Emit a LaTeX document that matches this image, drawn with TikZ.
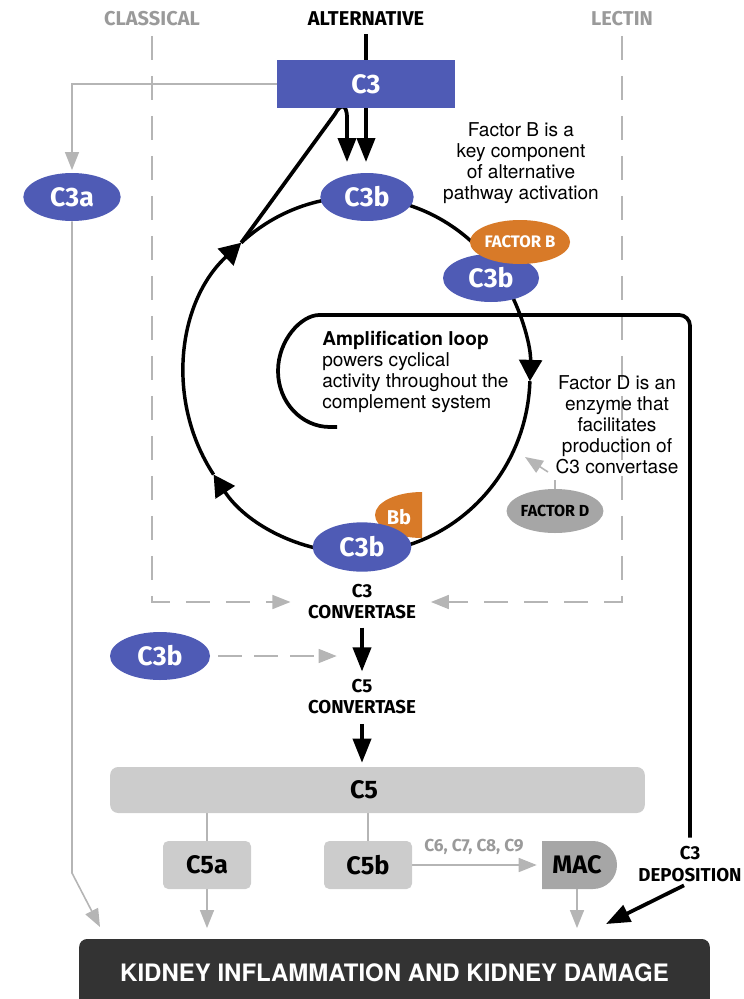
\documentclass[tikz,border=0pt]{standalone}
\usepackage{fontspec}
\setmainfont{TeX Gyre Heros}
\newfontfamily\tagfont{Fira Sans}
\usetikzlibrary{arrows.meta,shapes.geometric}
\definecolor{c3blue}{HTML}{4F5BB5}
\definecolor{fborange}{HTML}{D87A28}
\definecolor{c5gray}{HTML}{CCCCCC}
\definecolor{macgray}{HTML}{A6A6A6}
\definecolor{linegray}{HTML}{B5B5B5}
\definecolor{textgray}{HTML}{9A9A9A}
\definecolor{damagegray}{HTML}{333333}
\pgfdeclarelayer{back}
\pgfsetlayers{back,main}

\begin{document}
\begin{tikzpicture}[x=0.75pt,y=-0.75pt,
  tagtext/.style={font={\tagfont\bfseries\fontsize{20}{20}\selectfont}, text=white, inner sep=0pt},
  blueblob/.style={tagtext, ellipse, fill=c3blue, minimum width=73pt, minimum height=36pt},
  factorblob/.style={tagtext, ellipse, fill=fborange, minimum width=66pt, minimum height=33pt,
    font={\tagfont\bfseries\fontsize{12.5}{12.5}\selectfont}},
  graybox/.style={tagtext, text=black, fill=c5gray, rounded corners=4pt,
    minimum width=66pt, minimum height=36pt, font={\tagfont\bfseries\fontsize{19}{19}\selectfont}},
  waylabel/.style={tagtext, text=textgray, font={\tagfont\bfseries\fontsize{15}{15}\selectfont}},
  stagetext/.style={tagtext, text=black, align=center, font={\tagfont\bfseries\fontsize{14}{15.75}\selectfont}},
  notetext/.style={inner sep=0pt, align=center, font={\fontsize{14.3}{15.75}\selectfont}},
  flow/.style={line width=2.8pt, black},
  flowtip/.style={flow, -{Triangle[length=18pt,width=13.5pt]}},
  loopline/.style={line width=2.6pt, black},
  looptip/.style={loopline, -{Triangle[length=16pt,width=17pt]}},
  grayline/.style={draw=linegray, line width=1.2pt},
  graytip/.style={grayline, -{Triangle[length=13.5pt,width=10.5pt]}, linegray},
  dashtip/.style={graytip, dash pattern=on 18pt off 12pt}]
\useasboundingbox (0,0) rectangle (743,999);

% pathway heads
\node[waylabel] (classical) at (152,19) {CLASSICAL};
\node[waylabel, text=black] (alternative) at (366,19) {ALTERNATIVE};
\node[waylabel] (lectin) at (622,19) {LECTIN};

% C3 and its pieces
\node[tagtext, rectangle, fill=c3blue, minimum width=133.5pt, minimum height=36pt] (c3) at (366,84) {C3};
\node[blueblob] (c3a) at (72,197) {C3a};
\node[blueblob, minimum width=70pt] (c3btop) at (367,197) {C3b};
\node[blueblob, minimum width=72pt] (c3bright) at (491,278) {C3b};
\node[factorblob] (factorb) at (520,242) {FACTOR B};
\fill[fborange] (422,492) arc[start angle=-90, end angle=-270, x radius=47, y radius=23] -- cycle;
\node[tagtext, font={\tagfont\bfseries\fontsize{15}{15}\selectfont}] (bb) at (399,517) {Bb};
\node[blueblob, minimum width=74pt, minimum height=37pt] (c3bbottom) at (362,547) {C3b};
\node[factorblob, fill=macgray, text=black,
  font={\tagfont\bfseries\fontsize{12}{12}\selectfont}] (factord) at (555,511) {FACTOR D};

% notes
\node[notetext] (notefb) at (521,163) {Factor B is a\\key component\\of alternative\\pathway activation};
\node[notetext] (notefd) at (617,425) {Factor D is an\\enzyme that\\facilitates\\production of\\C3 convertase};
\node[notetext, align=left, anchor=north west] (noteamp) at (322,331)
  {\textbf{Amplification loop}\\powers cyclical\\activity throughout the\\complement system};

% convertases
\node[stagetext] (conv3) at (362,602) {C3\\CONVERTASE};
\node[blueblob, minimum width=75pt] (c3bleft) at (160,656) {C3b};
\node[stagetext] (conv5) at (362,697) {C5\\CONVERTASE};

% C5 and after
\node[fill=c5gray, rounded corners=6pt, minimum width=401pt, minimum height=34.5pt] (c5bar) at (377.5,790) {};
\node[tagtext, text=black, font={\tagfont\bfseries\fontsize{19}{19}\selectfont}] (c5) at (364,790) {C5};
\node[graybox] (c5a) at (207,865) {C5a};
\node[graybox] (c5b) at (368,865) {C5b};
\fill[macgray] (542,841) -- (593,841) arc[start angle=-90, end angle=90, radius=24] -- (542,889) -- cycle;
\node[graybox, fill=none, minimum width=56pt] (mac) at (577,865) {MAC};
\node[tagtext, text=textgray, font={\tagfont\bfseries\fontsize{13}{13}\selectfont}] (c6to9) at (474,847) {C6, C7, C8, C9};
\node[stagetext, font={\tagfont\bfseries\fontsize{14}{17}\selectfont}] (deposition) at (690,864) {C3\\DEPOSITION};
\node[fill=damagegray, rounded corners=6pt, minimum width=473pt, minimum height=51pt, text=white,
  font={\bfseries\fontsize{18}{18}\selectfont}] (damage) at (394.5,973) {KIDNEY INFLAMMATION AND KIDNEY DAMAGE};

\coordinate (hitL) at (100,927);
\coordinate (hitR) at (606,924);
\coordinate (fdtip) at (525,457);

\begin{pgfonlayer}{back}
% amplification circle
\coordinate (cen) at (357,375);
\draw[looptip] (cen) ++(-90:173 and 178) arc[start angle=-90, end angle=2, x radius=173, y radius=178];
\draw[loopline] (cen) ++(2:173 and 178) arc[start angle=2, end angle=90, x radius=173, y radius=178];
\draw[looptip] (cen) ++(90:173 and 178) arc[start angle=90, end angle=146, x radius=173, y radius=178];
\draw[looptip] (cen) ++(146:173 and 178) arc[start angle=146, end angle=228, x radius=173, y radius=178];
\path (cen) ++(228:173 and 178) coordinate (rimul);
\draw[loopline] (rimul) arc[start angle=228, end angle=270, x radius=173, y radius=178];
\draw[flowtip, shorten >=8pt] (rimul) -- (335,114) .. controls (340,104) and (347,103) .. (347,118)
  -- ([xshift=-15pt]c3btop.north);

% alternative pathway
\draw[flow] ([yshift=-6pt]alternative.south) -- (c3.north);
\draw[flowtip, shorten >=8pt] (c3.south) -- (c3.south |- c3btop.north);

% C3a branch
\draw[graytip, shorten >=2pt] (c3.west) -| (c3a.north);
\draw[graytip] (c3a.south) -- (72,873) -- (hitL);

% classical and lectin
\draw[dashtip, shorten >=13pt] ([yshift=-7pt]classical.south) |- (conv3.west);
\draw[dashtip, shorten >=11pt] ([yshift=-7pt]lectin.south) |- (conv3.east);

% factor D
\draw[grayline] (factord.north) -- ++(0,-9);
\draw[graytip] (548,472) -- (fdtip);

% loop and C3 deposition
\draw[flow, shorten <=6pt] (deposition.north) [rounded corners=8pt] -- (690,315) -- (330,315)
  [sharp corners] arc[start angle=270, end angle=90, x radius=52, y radius=56] -- (337,427);
\draw[flowtip, shorten <=5pt] (deposition.south) -- (hitR);

% convertase chain
\draw[dashtip, dash pattern=on 18pt off 9pt, shorten <=6pt, shorten >=19pt] (c3bleft.east) -- (c3bleft -| conv3);
\draw[flowtip, shorten <=6pt, shorten >=6pt] (conv3.south) -- (conv5.north);
\draw[flowtip, shorten <=7pt, shorten >=3pt] (conv5.south) -- (conv5.south |- c5bar.north);

% C5 split
\draw[grayline] (c5a.north |- c5bar.south) -- (c5a.north);
\draw[grayline] (c5b.north |- c5bar.south) -- (c5b.north);
\draw[graytip, shorten >=2pt] (c5b.east) -- (mac.west);
\draw[graytip, shorten >=8pt] (c5a.south) -- (c5a.south |- damage.north);
\draw[graytip, shorten >=8pt] (mac.south) -- (mac.south |- damage.north);
\end{pgfonlayer}
\end{tikzpicture}
\end{document}
